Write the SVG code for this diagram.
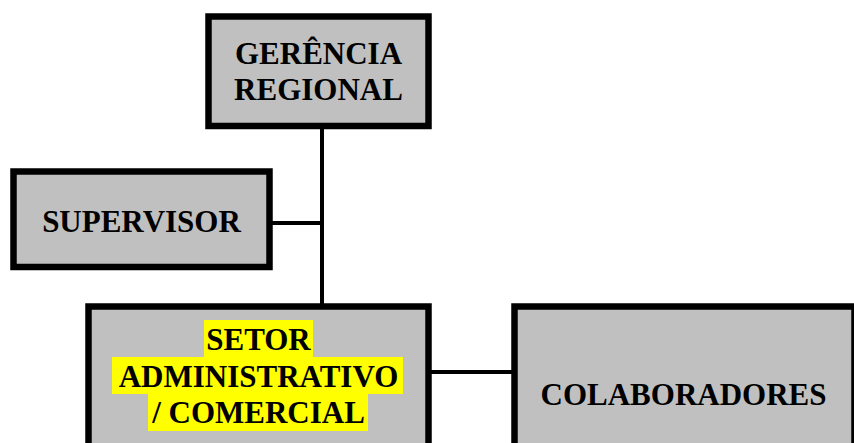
<svg xmlns="http://www.w3.org/2000/svg" width="854" height="443" viewBox="0 0 854 443">
<style>
.box{fill:#C0C0C0;stroke:#000;stroke-width:6.5}
.lbl{font-family:"Liberation Serif","Times New Roman",serif;font-weight:bold;font-size:31px;fill:#000;text-anchor:middle}
.hl{fill:#FFFF00}
.con{stroke:#000;stroke-width:4;fill:none}
</style>
<rect width="854" height="443" fill="#fff"/>
<g id="connectors">
<line class="con" x1="322" y1="128" x2="322" y2="306"/>
<line class="con" x1="272" y1="223" x2="322" y2="223"/>
<line class="con" x1="431" y1="372" x2="513" y2="372"/>
</g>
<g id="gerencia">
<rect class="box" x="208.5" y="16.5" width="220" height="109.5"/>
<text class="lbl" x="318.5" y="64">GERÊNCIA</text>
<text class="lbl" x="318.5" y="100">REGIONAL</text>
</g>
<g id="supervisor">
<rect class="box" x="13.5" y="171.5" width="256" height="95.5"/>
<text class="lbl" x="141.5" y="232">SUPERVISOR</text>
</g>
<g id="setor">
<rect class="box" x="88.5" y="306.5" width="340" height="150"/>
<rect class="hl" x="204" y="320" width="109" height="37"/>
<rect class="hl" x="112" y="357" width="291" height="37"/>
<rect class="hl" x="148" y="394" width="220" height="37"/>
<text class="lbl" x="258.5" y="350">SETOR</text>
<text class="lbl" x="258.5" y="387">ADMINISTRATIVO</text>
<text class="lbl" x="258.5" y="423">/ COMERCIAL</text>
</g>
<g id="colaboradores">
<rect class="box" x="514.5" y="306.5" width="340" height="180"/>
<text class="lbl" x="683.5" y="405">COLABORADORES</text>
</g>
</svg>
